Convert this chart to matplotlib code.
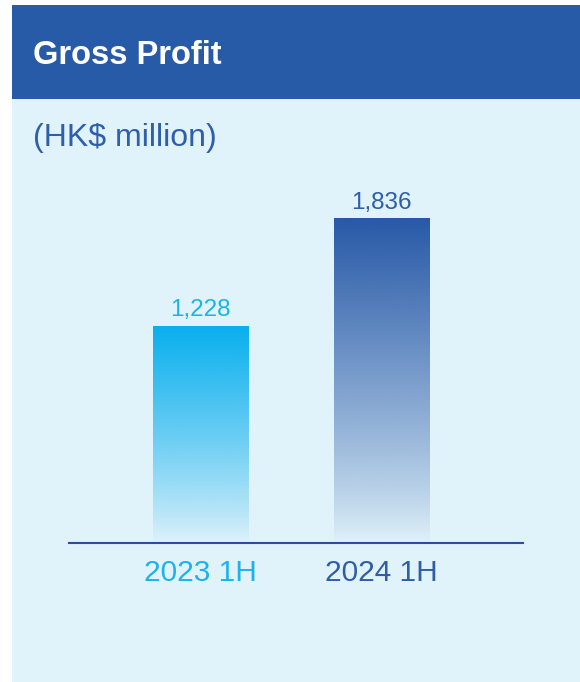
import numpy as np
import matplotlib
matplotlib.use("Agg")
import matplotlib.pyplot as plt
from matplotlib.patches import Rectangle
from matplotlib.colors import to_rgb

periods = ["2023 1H", "2024 1H"]
gross_profit = [1228, 1836]
bar_colors = ["#08AFEE", "#2859A7"]
label_colors = ["#1BB3EE", "#2F5DA8"]

title = "Gross Profit"
unit = "(HK$ million)"

plt.rcParams['font.family'] = ['Liberation Sans', 'DejaVu Sans']

W, H = 580, 682
fig = plt.figure(figsize=(W / 100, H / 100), dpi=100)
fig.patch.set_facecolor("white")

# panel + header band (figure pixel coords converted to fractions)
bg = "#E0F2FA"
fig.patches.append(Rectangle((12 / W, 0), 1 - 12 / W, 1 - 5 / H,
                             transform=fig.transFigure, facecolor=bg, edgecolor="none", zorder=-2))
fig.patches.append(Rectangle((12 / W, 1 - 99 / H), 1 - 12 / W, 94 / H,
                             transform=fig.transFigure, facecolor="#275BA8", edgecolor="none", zorder=-1))

fig.text(33 / W, 1 - 64 / H, title, color="white", fontsize=23.5, fontweight="bold", va="baseline")
fig.text(33 / W, 1 - 146 / H, unit, color="#2E5FAA", fontsize=23, va="baseline")

# chart area
ymax = 2200
px_per_unit = 324 / 1836
ax_bottom = 543
ax_h = ymax * px_per_unit
ax = fig.add_axes([69 / W, 1 - ax_bottom / H, 454 / W, ax_h / H])
ax.set_facecolor("none")

x = np.arange(len(periods))
width = 0.525
bars = ax.bar(x, gross_profit, width=width, color="none")

for bar, col in zip(bars, bar_colors):
    r, g, b = to_rgb(col)
    n = 256
    alpha = np.linspace(1.0, 0.0, n) ** 0.85
    grad = np.zeros((n, 1, 4))
    grad[:, 0, 0] = r
    grad[:, 0, 1] = g
    grad[:, 0, 2] = b
    grad[:, 0, 3] = alpha
    x0 = bar.get_x()
    ax.imshow(grad, extent=[x0, x0 + bar.get_width(), 0, bar.get_height()],
              aspect="auto", origin="upper", zorder=2, interpolation="bilinear")

for xi, v, c in zip(x, gross_profit, label_colors):
    ax.annotate(f"{v:,}", xy=(xi, v), xytext=(0, 7.5), textcoords="offset points",
                ha="center", va="baseline", fontsize=17.5, color=c)
    ax.annotate(periods[xi], xy=(xi, 0), xytext=(0, -27.4), textcoords="offset points",
                ha="center", va="baseline", fontsize=21.5, color=c, annotation_clip=False)

ax.set_xlim(-0.7265, 1.7818)
ax.set_ylim(0, ymax)
for s in ["top", "left", "right"]:
    ax.spines[s].set_visible(False)
ax.spines["bottom"].set_color("#2B4E9B")
ax.spines["bottom"].set_linewidth(1.5)
ax.spines["bottom"].set_zorder(3)
ax.set_xticks([])
ax.set_yticks([])

fig.savefig("out.png", dpi=100, facecolor=fig.get_facecolor())
